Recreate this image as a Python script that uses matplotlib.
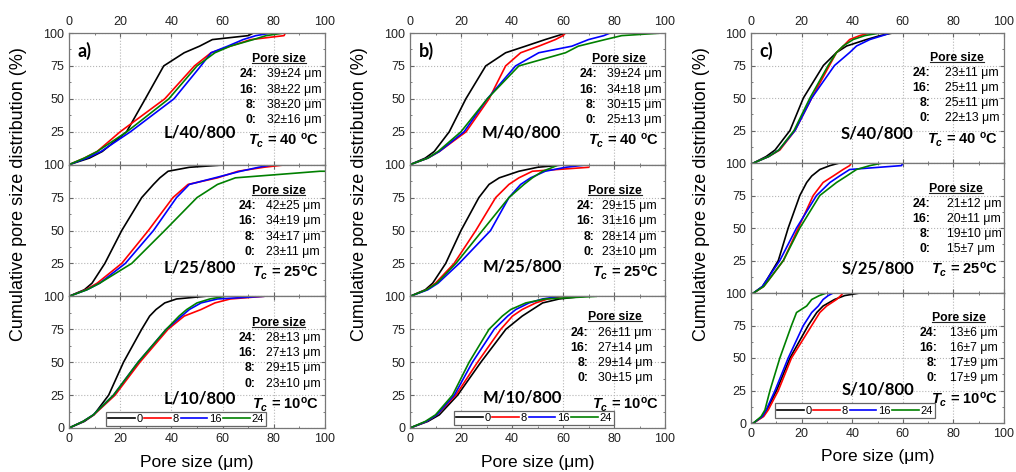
import numpy as np
import matplotlib
matplotlib.use('Agg')
import matplotlib.pyplot as plt
from matplotlib.ticker import MultipleLocator
from matplotlib.lines import Line2D

plt.rcParams['font.family'] = ['Liberation Sans', 'DejaVu Sans']
plt.rcParams['mathtext.fontset'] = 'custom'
plt.rcParams['mathtext.it'] = 'Liberation Sans:italic:bold'
plt.rcParams['mathtext.rm'] = 'Liberation Sans:bold'
plt.rcParams['mathtext.bf'] = 'Liberation Sans:bold'

levels = [0, 5, 10, 25, 50, 75, 85, 90, 95, 98, 100]
series = ['0', '8', '16', '24']
colors = ['black', 'red', 'blue', '#008000']
nan = np.nan

# order of curves in each sample: 0, 8, 16, 24
L40 = [[0, 8, 13, 22.5, 29.8, 37, 45, 51, 56, 70, 72],
       [0, 6, 11, 20, 37.4, 49, 55.5, 63, 71, 84, 84.5],
       [0, 7, 12.5, 24, 41, 51.5, 55.5, 62, 68, 73, 79],
       [0, 6, 11, 22.6, 39, 50, 57, 63, 72, 77, 84]]
L25 = [[0, 6, 9, 14, 20.6, 28.4, 33, 35.5, 38.7, 47, 62],
       [0, 6.5, 11, 20.6, 31, 40.6, 46.5, 58, 66, 76, 85],
       [0, 7, 12, 22, 33, 42, 47, 57, 67, 74, 80],
       [0, 7, 12, 24.5, 37.4, 50, 58, 65, 98, nan, nan]]
L10 = [[0, 6, 9.7, 15.5, 21.3, 28.4, 31.5, 34, 37.4, 42, 53],
       [0, 5.5, 9.7, 18, 27.7, 38.7, 45, 51.6, 57, 63, 76],
       [0, 5.5, 9.5, 17.4, 27, 38, 44, 47, 51.6, 58, 76],
       [0, 5.5, 9.5, 17.4, 27, 38, 43, 46, 50, 55, 61]]
M40 = [[0, 6, 9.5, 15.4, 21.9, 29.7, 37.5, 45.3, 53, 58, 61],
       [0, 7, 11.5, 22, 31, 37.5, 43.4, 50.5, 57, 60, 61],
       [0, 7, 11.5, 21.2, 30.3, 41.4, 50.5, 63.5, 70, 76, 78.5],
       [0, 7, 11, 20, 30.3, 42.7, 61, 66, 76.5, 83, 99]]
M25 = [[0, 6, 8.9, 14, 20, 27, 31, 35, 42.7, 50, 61],
       [0, 6.5, 10, 17.3, 25.8, 33.6, 38.8, 42.7, 48, 70, nan],
       [0, 7, 11, 19.3, 31.6, 38.8, 43.4, 47.3, 53, 61, 70],
       [0, 6.5, 10.5, 18, 28.4, 38.8, 44.7, 48, 52, 56, 58.3]]
M10 = [[0, 7, 11.5, 18.7, 27.8, 37.6, 44, 48, 52, 58.5, 68],
       [0, 6.5, 10.5, 18, 26.5, 35.6, 40.2, 44, 49.3, 54, 59.8],
       [0, 6.5, 10.5, 17.4, 24.5, 33, 38.3, 41.5, 46.7, 52, 58.5],
       [0, 6, 10, 16.7, 23.2, 31, 36.2, 39.5, 45.4, 53, 73]]
S40 = [[1, 6, 9.5, 15.4, 20.7, 28.6, 33.8, 37.8, 45.7, 51, 56],
       [1, 7, 11.4, 17.4, 24, 31, 33.8, 36.5, 39, 43, 47],
       [1, 7, 11, 17.4, 24, 33, 39, 41.7, 47, 52, 55],
       [1, 7, 11, 17, 23.3, 30.5, 33.8, 36.4, 40.4, 45, 51]]
S25 = [[1, 4.5, 6.2, 10.8, 14.7, 19.3, 22, 24, 27.2, 31.2, 35],
       [1, 5, 7, 12.8, 18.7, 24.6, 28.5, 32.5, 36.4, 39, 39.7],
       [1, 4.5, 6.2, 11.4, 18, 25.9, 31.2, 35, 39, 59.5, 60],
       [1, 5, 7, 12.8, 19.3, 27.2, 33.8, 37.8, 41.7, 47, 52]]
S10 = [[1, 4.5, 6.2, 10.1, 15.4, 22.6, 26, 28.5, 33, 37, 43],
       [1, 5, 6.8, 10.8, 16, 24, 27.2, 29.9, 33.8, 35.5, 36.4],
       [1, 4.5, 6, 9.5, 14.7, 20.7, 24, 26.6, 28.5, 30.5, 32.5],
       [1, 4, 5.5, 7.5, 11.4, 16, 18, 22, 24, 27, 29.8]]

# flat tails after the last read level: (sample, curve index) -> end x
tails = {('L25', 3): 100, ('M40', 0): 67, ('M25', 1): 70,
         ('S40', 0): 80, ('S25', 1): 52}

# mean +- sd text, order 24, 16, 8, 0
stat_keys = ['24:', '16:', '8:', '0:']
L40_stats = ['39\u00b124', '38\u00b122', '38\u00b120', '32\u00b116']
L25_stats = ['42\u00b125', '34\u00b119', '34\u00b117', '23\u00b111']
L10_stats = ['28\u00b113', '27\u00b113', '29\u00b115', '23\u00b110']
M40_stats = ['39\u00b124', '34\u00b118', '30\u00b115', '25\u00b113']
M25_stats = ['29\u00b115', '31\u00b116', '28\u00b114', '23\u00b110']
M10_stats = ['26\u00b111', '27\u00b114', '29\u00b114', '30\u00b115']
S40_stats = ['23\u00b111', '25\u00b111', '25\u00b111', '22\u00b113']
S25_stats = ['21\u00b112', '20\u00b111', '19\u00b110', '15\u00b17']
S10_stats = ['13\u00b16', '16\u00b17', '17\u00b19', '17\u00b19']

temps = ['40 ', '25', '10']

panels = [
    dict(letter='a)', prefix='L', left=69, right=325, top=33, bottom=428,
         data=[('L40', L40, L40_stats), ('L25', L25, L25_stats), ('L10', L10, L10_stats)],
         name_xy=[(51, 24.6), (51, 22), (51, 22.7)],
         stat_x=[(73.4, 77.3, 82), (73.0, 76.9, 81.8), (73.0, 76.9, 81.8)],
         stat_y=[0, 0, 0], leg=(0.145, 0.015), xlab_y=462),
    dict(letter='b)', prefix='M', left=410, right=665, top=33, bottom=428,
         data=[('M40', M40, M40_stats), ('M25', M25, M25_stats), ('M10', M10, M10_stats)],
         name_xy=[(43.5, 24.6), (44, 23), (44, 23.5)],
         stat_x=[(73.3, 77.3, 82), (72.2, 75.2, 80.4), (70, 73.8, 80.4)],
         stat_y=[0, 0, 4], leg=(0.173, 0.02), xlab_y=462),
    dict(letter='c)', prefix='S', left=751, right=1004, top=33, bottom=423,
         data=[('S40', S40, S40_stats), ('S25', S25, S25_stats), ('S10', S10, S10_stats)],
         name_xy=[(49.7, 23), (50.2, 19), (50.2, 26)],
         stat_x=[(71, 76.7, 81.3), (71, 77.3, 81), (73.8, 78.6, 82)],
         stat_y=[1, 0, 1], leg=(0.095, 0.04), xlab_y=457),
]

W, H = 1016, 472
fig = plt.figure(figsize=(W / 100, H / 100), dpi=100)
ps_texts = []

for p in panels:
    x0 = p['left'] / W
    w = (p['right'] - p['left']) / W
    h = (p['bottom'] - p['top']) / 3 / H
    for i, (key, curves, stats) in enumerate(p['data']):
        y0 = 1 - (p['top'] / H) - (i + 1) * h
        ax = fig.add_axes([x0, y0, w, h])
        for j, (xs, c) in enumerate(zip(curves, colors)):
            xs = np.array(xs, dtype=float)
            ys = np.array(levels, dtype=float)
            ok = ~np.isnan(xs)
            xs, ys = xs[ok], ys[ok]
            if (key, j) in tails:
                xs = np.append(xs, tails[(key, j)])
                ys = np.append(ys, ys[-1])
            ax.plot(xs, ys, color=c, lw=1.2, label=series[j])

        ax.set_xlim(0, 100)
        ax.set_ylim(0, 100)
        ax.xaxis.set_major_locator(MultipleLocator(20))
        ax.xaxis.set_minor_locator(MultipleLocator(10))
        ax.yaxis.set_major_locator(MultipleLocator(25))
        ax.yaxis.set_minor_locator(MultipleLocator(12.5))
        ax.tick_params(which='both', direction='in', top=True, right=True,
                       color='#666666', labelcolor='#222222', labelsize=9)
        ax.tick_params(which='major', length=3)
        ax.tick_params(which='minor', length=1.5)
        ax.tick_params(axis='x', labelbottom=(i == 2), labeltop=(i == 0))
        ax.set_yticks([0, 25, 50, 75, 100])
        if i < 2:
            ax.set_yticklabels(['', '25', '50', '75', '100'])
        ax.grid(True, which='major', ls=':', color='#b5b5b5', lw=0.8)
        for s in ax.spines.values():
            s.set_color('#777777')
            s.set_linewidth(0.9)

        # sample name
        nx, ny = p['name_xy'][i]
        ax.text(nx, ny, '%s/%s/800' % (p['prefix'], key[1:]), ha='center', va='center',
                fontsize=12, fontweight='bold', family=['Lato', 'DejaVu Sans'])
        # pore size stats
        lx, vx, px = p['stat_x'][i]
        dy = p['stat_y'][i]
        t = ax.text(px, 80 + dy, 'Pore size', ha='center', va='center',
                    fontsize=8.8, fontweight='bold')
        ps_texts.append(t)
        for k, (lab, val) in enumerate(zip(stat_keys, stats)):
            yy = 68.5 + dy - k * 11.6
            ax.text(lx, yy, lab, ha='right', va='center', fontsize=8.8, fontweight='bold')
            ax.text(vx, yy, val + ' \u03bcm', ha='left', va='center', fontsize=8.8)
        # crystallisation temperature
        ax.text(97.5, 18, r'$T_c$ = %s$^\mathrm{o}$C' % temps[i], ha='right', va='center',
                fontsize=10.5, fontweight='bold')
        if i == 0:
            ax.text(3.5, 86, p['letter'], ha='left', va='center', fontsize=13,
                    fontweight='bold', family=['Lato', 'DejaVu Sans'])
        if i == 2:
            leg = ax.legend(loc='lower left', bbox_to_anchor=p['leg'], ncol=4, fontsize=8,
                            handlelength=2.4, handletextpad=0.15, columnspacing=0.15,
                            borderpad=0.2, borderaxespad=0, fancybox=False,
                            edgecolor='#666666', framealpha=1)
            leg.get_frame().set_linewidth(0.9)

    cx = (p['left'] + p['right']) / 2 / W
    fig.text(cx, 1 - p['xlab_y'] / H, 'Pore size (\u03bcm)', ha='center', va='center',
             fontsize=12.5)
    fig.text((p['left'] - 50) / W, 1 - 194 / H, 'Cumulative pore size distribution (%)',
             rotation=90, ha='center', va='center', fontsize=13)

# underline the "Pore size" headers
fig.canvas.draw()
renderer = fig.canvas.get_renderer()
inv = fig.transFigure.inverted()
for t in ps_texts:
    bb = t.get_window_extent(renderer)
    (ax0, ay0), (ax1, _) = inv.transform([(bb.x0, bb.y0 + 2), (bb.x1, bb.y1)])
    fig.add_artist(Line2D([ax0, ax1], [ay0, ay0], transform=fig.transFigure,
                          color='#222222', lw=0.8))

fig.savefig('out.png', dpi=100)
